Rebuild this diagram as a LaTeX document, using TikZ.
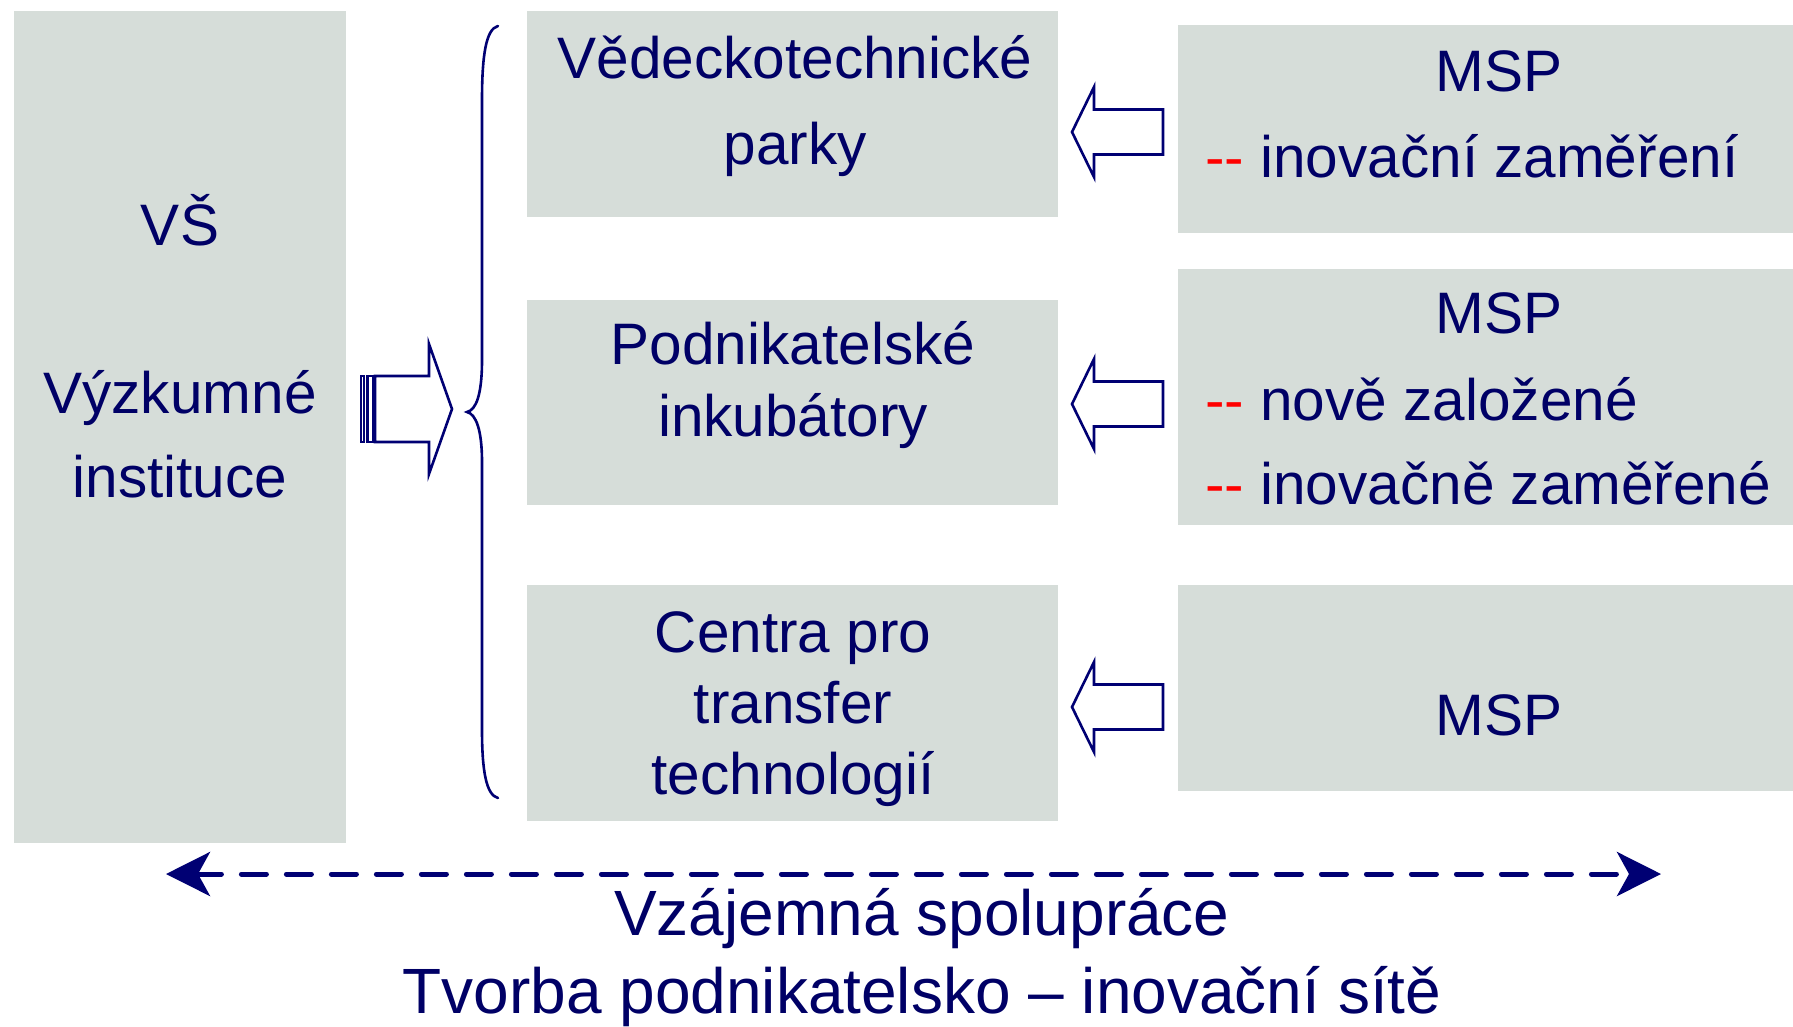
\documentclass[tikz,border=0pt]{standalone}
\usepackage{fontspec}
\setmainfont{Liberation Sans}
\usetikzlibrary{arrows.meta}
\definecolor{txtc}{HTML}{000066}
\definecolor{linec}{HTML}{000073}
\definecolor{boxc}{HTML}{D6DDD9}
\begin{document}
\begin{tikzpicture}[x=1pt,y=-1pt,
  boxfill/.style={fill=boxc,draw=none},
  lbl/.style={inner sep=0pt,text=txtc,font=\fontsize{58.5}{70}\selectfont},
  biglbl/.style={lbl,font=\fontsize{64}{76}\selectfont},
  outl/.style={draw=linec,line width=2.6pt,fill=white,line join=miter},
]
\useasboundingbox (0,0) rectangle (1793,1026);
% boxes
\fill[boxfill] (14,11) rectangle (346,843);
\fill[boxfill] (527,11) rectangle (1058,217);
\fill[boxfill] (527,300) rectangle (1058,505);
\fill[boxfill] (527,585) rectangle (1058,821);
\fill[boxfill] (1178,25) rectangle (1793,233);
\fill[boxfill] (1178,269) rectangle (1793,525);
\fill[boxfill] (1178,585) rectangle (1793,791);

% left texts
\node[lbl,anchor=base] (vs) at (180,245) {VŠ};
\node[lbl,anchor=base] (vyz) at (180,413) {Výzkumné};
\node[lbl,anchor=base] (inst) at (180,497) {instituce};

% middle texts
\node[lbl,anchor=base] (m1a) at (795,78) {Vědeckotechnické};
\node[lbl,anchor=base] (m1b) at (795,164) {parky};
\node[lbl,anchor=base] (m2a) at (793,364) {Podnikatelské};
\node[lbl,anchor=base] (m2b) at (793,436) {inkubátory};
\node[lbl,anchor=base] (m3a) at (793,652) {Centra pro};
\node[lbl,anchor=base] (m3b) at (793,723) {transfer};
\node[lbl,anchor=base] (m3c) at (793,794) {technologií};

% right texts
\node[lbl,anchor=base] (r1) at (1499,91) {MSP};
\node[lbl,anchor=base west] (r1a) at (1205,177) {\textcolor{red}{-{}-} inovační zaměření};
\node[lbl,anchor=base] (r2) at (1499,333) {MSP};
\node[lbl,anchor=base west] (r2a) at (1205,420) {\textcolor{red}{-{}-} nově založené};
\node[lbl,anchor=base west] (r2b) at (1205,504) {\textcolor{red}{-{}-} inovačně zaměřené};
\node[lbl,anchor=base] (r3) at (1499,735) {MSP};

% bottom texts
\node[biglbl,anchor=base] (b1) at (922,935) {Vzájemná spolupráce};
\node[biglbl,anchor=base] (b2) at (922,1013) {Tvorba podnikatelsko – inovační sítě};

% big striped arrow
\draw[outl] (375,376) -- (429,376) -- (429,344) -- (452,409) -- (429,474) -- (429,442) -- (375,442) -- cycle;
\draw[outl] (361,376) rectangle (364,442);
\draw[outl] (367.5,376) rectangle (373,442);

% brace
\draw[linec,line width=2.6pt,line cap=round]
  (498,26) .. controls (486,29) and (482,55) .. (482,100)
  -- (482,360) .. controls (482,395) and (476,410) .. (467,412)
  .. controls (476,414) and (482,430) .. (482,462)
  -- (482,730) .. controls (482,770) and (486,795) .. (498,798);

% small arrows
\foreach \c in {132,404,707}{
  \draw[outl] (1163,\c-22.5) -- (1094,\c-22.5) -- (1094,\c-45) -- (1072,\c) -- (1094,\c+45) -- (1094,\c+22.5) -- (1163,\c+22.5) -- cycle;
}

% dashed double arrow
\coordinate (dl) at (166,874);
\coordinate (dr) at (1661,874);
\draw[linec,line width=5pt,line cap=round,dash pattern=on 25pt off 20pt,
  {Stealth[length=44pt,width=44pt,inset=12pt,line cap=butt,sep=0pt]}-{Stealth[length=44pt,width=44pt,inset=12pt,line cap=butt,sep=0pt]}]
  (dl) -- (dr);
\end{tikzpicture}
\end{document}
